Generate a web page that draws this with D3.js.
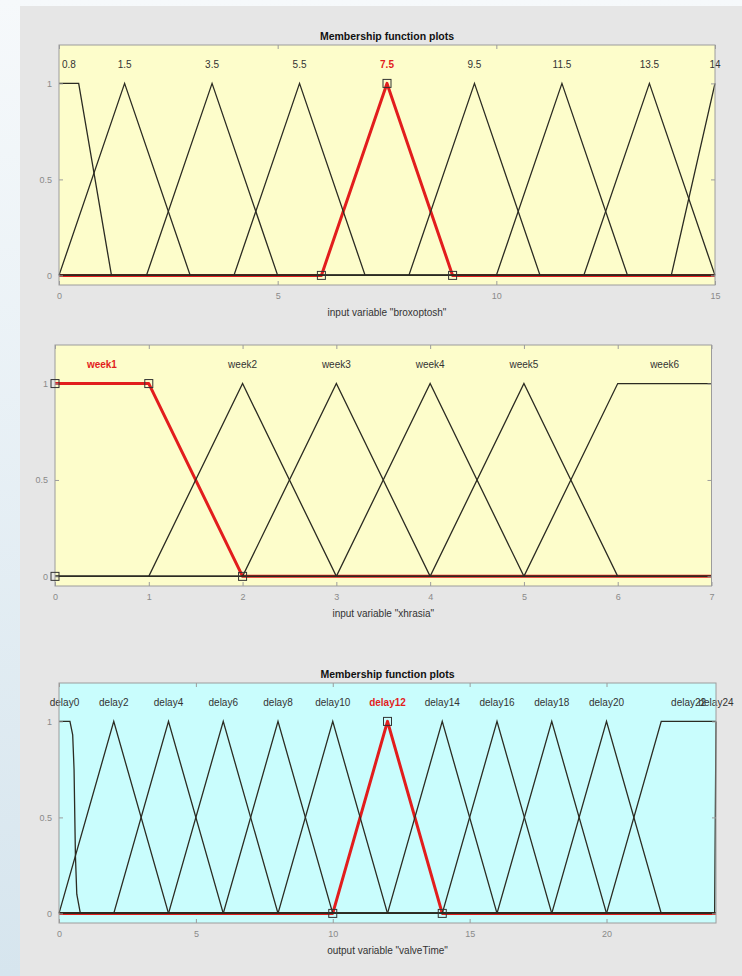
<!DOCTYPE html>
<html>
<head>
<meta charset="utf-8">
<script src="https://cdn.jsdelivr.net/npm/d3@7"></script>
<style>
  html, body { margin: 0; padding: 0; }
  body { width: 742px; height: 976px; overflow: hidden; background: linear-gradient(#f6f9fb, #d6e5ee); }
  svg { display: block; font-family: "Liberation Sans", Arial, sans-serif; }
</style>
</head>
<body>
<div id="chart"></div>
<script>
const width = 742;
const height = 976;

// shared y ticks for every membership plot
const yTicks = [0, 0.5, 1];

// input variable "broxoptosh"
const brxNames = ["0.8", "1.5", "3.5", "5.5", "7.5", "9.5", "11.5", "13.5", "14"];
const brxShapes = [
  [[0, 1], [0.45, 1], [1.2, 0]],
  [[0, 0], [1.5, 1], [3, 0]],
  [[2, 0], [3.5, 1], [5, 0]],
  [[4, 0], [5.5, 1], [7, 0]],
  [[6, 0], [7.5, 1], [9, 0]],
  [[8, 0], [9.5, 1], [11, 0]],
  [[10, 0], [11.5, 1], [13, 0]],
  [[12, 0], [13.5, 1], [15, 0]],
  [[14, 0], [15, 1]]
];
const brxSelected = 4;
const brxMarkers = [[6, 0], [7.5, 1], [9, 0]];
const brxTicks = [0, 5, 10, 15];

// input variable "xhrasia"
const weekNames = ["week1", "week2", "week3", "week4", "week5", "week6"];
const weekShapes = [
  [[0, 1], [1, 1], [2, 0]],
  [[1, 0], [2, 1], [3, 0]],
  [[2, 0], [3, 1], [4, 0]],
  [[3, 0], [4, 1], [5, 0]],
  [[4, 0], [5, 1], [6, 0]],
  [[5, 0], [6, 1], [7, 1]]
];
const weekSelected = 0;
const weekMarkers = [[0, 0], [0, 1], [1, 1], [2, 0]];
const weekTicks = [0, 1, 2, 3, 4, 5, 6, 7];

// output variable "valveTime"
const delayNames = ["delay0", "delay2", "delay4", "delay6", "delay8", "delay10", "delay12",
  "delay14", "delay16", "delay18", "delay20", "delay22", "delay24"];
const delayShapes = [
  [[0, 1], [0.4, 1], [0.5, 0.93], [0.55, 0.75], [0.6, 0.3], [0.65, 0.1], [0.78, 0]],
  [[0, 0], [2, 1], [4, 0]],
  [[2, 0], [4, 1], [6, 0]],
  [[4, 0], [6, 1], [8, 0]],
  [[6, 0], [8, 1], [10, 0]],
  [[8, 0], [10, 1], [12, 0]],
  [[10, 0], [12, 1], [14, 0]],
  [[12, 0], [14, 1], [16, 0]],
  [[14, 0], [16, 1], [18, 0]],
  [[16, 0], [18, 1], [20, 0]],
  [[18, 0], [20, 1], [22, 0]],
  [[20, 0], [22, 1], [24, 1]],
  [[23.95, 0], [24, 1]]
];
const delaySelected = 6;
const delayMarkers = [[10, 0], [12, 1], [14, 0]];
const delayTicks = [0, 5, 10, 15, 20];

const panels = [
  { names: brxNames, shapes: brxShapes, sel: brxSelected, markers: brxMarkers, ticks: brxTicks,
    domain: [0, 15], label: "input variable \"broxoptosh\"", title: "Membership function plots",
    bg: "#fdfdcb", left: 59, right: 715, top: 45, bottom: 285 },
  { names: weekNames, shapes: weekShapes, sel: weekSelected, markers: weekMarkers, ticks: weekTicks,
    domain: [0, 7], label: "input variable \"xhrasia\"", title: null,
    bg: "#fdfdcb", left: 55, right: 711.5, top: 345, bottom: 586 },
  { names: delayNames, shapes: delayShapes, sel: delaySelected, markers: delayMarkers, ticks: delayTicks,
    domain: [0, 24], label: "output variable \"valveTime\"", title: "Membership function plots",
    bg: "#c9fdfd", left: 59, right: 716, top: 683, bottom: 923 }
];

const svg = d3.select("#chart")
  .append("svg")
  .attr("width", width)
  .attr("height", height);

// gray figure panel
svg.append("rect")
  .attr("x", 20)
  .attr("y", 6)
  .attr("width", width - 20)
  .attr("height", height - 6)
  .attr("fill", "#e6e6e6");

panels.forEach(p => {
  const x = d3.scaleLinear().domain(p.domain).range([p.left, p.right]);
  const y = d3.scaleLinear().domain([-0.05, 1.2]).range([p.bottom, p.top]);
  const g = svg.append("g");

  g.append("rect")
    .attr("x", p.left)
    .attr("y", p.top)
    .attr("width", p.right - p.left)
    .attr("height", p.bottom - p.top)
    .attr("fill", p.bg);

  const line = d3.line().x(d => x(d[0])).y(d => y(d[1]));

  // each mf is drawn over the whole range, zero outside its support
  const fullPath = pts => {
    const out = pts.slice();
    if (out[0][0] > p.domain[0]) out.unshift([p.domain[0], 0]);
    if (out[out.length - 1][0] < p.domain[1]) out.push([p.domain[1], 0]);
    return out;
  };

  // selected mf first, thick red; the others go on top of it
  g.append("path")
    .attr("d", line(fullPath(p.shapes[p.sel])))
    .attr("fill", "none")
    .attr("stroke", "#e21d1d")
    .attr("stroke-width", 3)
    .attr("stroke-linejoin", "round");

  g.append("g")
    .selectAll("path")
    .data(p.shapes.filter((s, i) => i !== p.sel))
    .enter()
    .append("path")
    .attr("d", d => line(fullPath(d)))
    .attr("fill", "none")
    .attr("stroke", "#2b2b22")
    .attr("stroke-width", 1.3);

  // mf names, placed at the middle of the top of each mf
  g.append("g")
    .selectAll("text")
    .data(p.names)
    .enter()
    .append("text")
    .attr("x", (d, i) => {
      const tops = p.shapes[i].filter(v => v[1] === 1).map(v => v[0]);
      return x(d3.mean(tops));
    })
    .attr("y", y(1.1))
    .attr("dy", "0.35em")
    .attr("text-anchor", "middle")
    .style("font-size", "10px")
    .style("font-weight", (d, i) => i === p.sel ? "bold" : "normal")
    .style("fill", (d, i) => i === p.sel ? "#e21d1d" : "#333")
    .text(d => d);

  // axes box with inward ticks on all four sides
  const axisColor = "#9c9c9c";
  g.append("rect")
    .attr("x", p.left)
    .attr("y", p.top)
    .attr("width", p.right - p.left)
    .attr("height", p.bottom - p.top)
    .attr("fill", "none")
    .attr("stroke", axisColor);

  const bottomAxis = g.append("g")
    .attr("transform", `translate(0,${p.bottom})`)
    .call(d3.axisBottom(x).tickValues(p.ticks).tickSizeInner(-4).tickSizeOuter(0).tickPadding(8).tickFormat(d3.format("d")));
  const topAxis = g.append("g")
    .attr("transform", `translate(0,${p.top})`)
    .call(d3.axisTop(x).tickValues(p.ticks).tickSizeInner(-4).tickSizeOuter(0).tickFormat(""));
  const leftAxis = g.append("g")
    .attr("transform", `translate(${p.left},0)`)
    .call(d3.axisLeft(y).tickValues(yTicks).tickSizeInner(-4).tickSizeOuter(0).tickPadding(7).tickFormat(d => d));
  const rightAxis = g.append("g")
    .attr("transform", `translate(${p.right},0)`)
    .call(d3.axisRight(y).tickValues(yTicks).tickSizeInner(-4).tickSizeOuter(0).tickFormat(""));

  [bottomAxis, topAxis, leftAxis, rightAxis].forEach(a => {
    a.select(".domain").remove();
    a.selectAll("line").attr("stroke", axisColor);
    a.selectAll("text")
      .style("font-size", "9px")
      .style("font-family", "\"Liberation Sans\", Arial, sans-serif")
      .attr("fill", "#8a8a8a");
  });

  // vertex markers of the selected mf
  g.append("g")
    .selectAll("rect")
    .data(p.markers)
    .enter()
    .append("rect")
    .attr("x", d => x(d[0]) - 4)
    .attr("y", d => y(d[1]) - 4)
    .attr("width", 8)
    .attr("height", 8)
    .attr("fill", "none")
    .attr("stroke", "#333")
    .attr("stroke-width", 1);

  svg.append("text")
    .attr("x", (p.left + p.right) / 2)
    .attr("y", p.bottom + 27)
    .attr("dy", "0.35em")
    .attr("text-anchor", "middle")
    .style("font-size", "10px")
    .style("fill", "#333")
    .text(p.label);

  if (p.title) {
    svg.append("text")
      .attr("x", (p.left + p.right) / 2)
      .attr("y", p.top - 9)
      .attr("dy", "0.35em")
      .attr("text-anchor", "middle")
      .style("font-size", "10.5px")
      .style("font-weight", "bold")
      .style("fill", "#111")
      .text(p.title);
  }
});
</script>
</body>
</html>
